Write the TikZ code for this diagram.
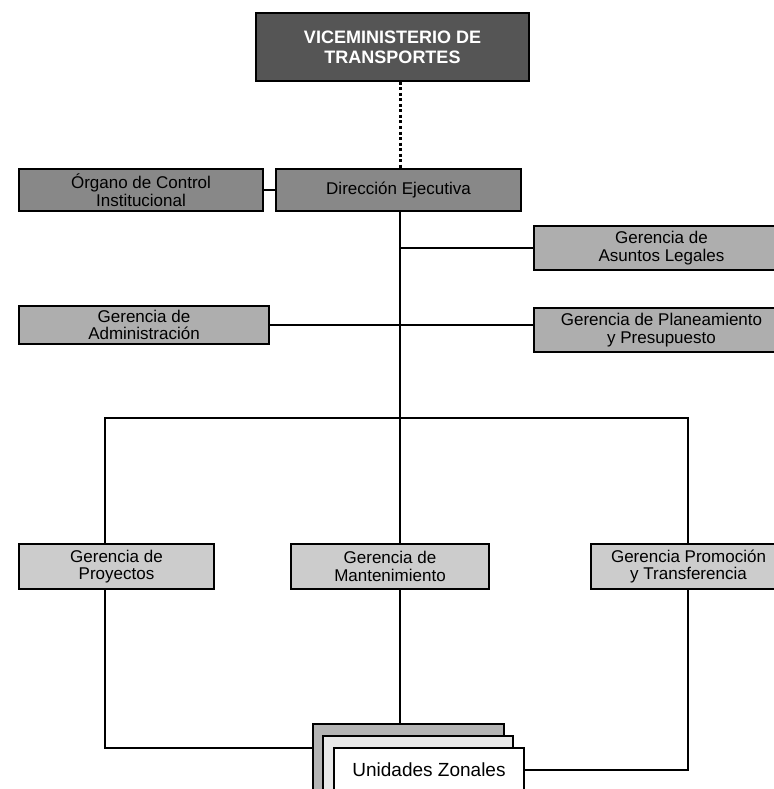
\documentclass[tikz,border=0pt]{standalone}
\usepackage{fontspec}
\setmainfont{Liberation Sans}
\usetikzlibrary{positioning}
\definecolor{headgray}{HTML}{555555}
\definecolor{dirgray}{HTML}{888888}
\definecolor{midgray}{HTML}{AEAEAE}
\definecolor{lowgray}{HTML}{CCCCCC}
\definecolor{backgray}{HTML}{B4B4B4}
\definecolor{pagegray}{HTML}{E8E8E8}
\tikzset{orgbox/.style={rectangle, draw=black, line width=2pt, anchor=north west, align=center, inner sep=1pt, font=\fontsize{17}{17.5}\selectfont},
         headbox/.style={orgbox, fill=headgray, text=white, font=\fontsize{18}{20}\selectfont\bfseries},
         dirbox/.style={orgbox, fill=dirgray},
         staffbox/.style={orgbox, fill=midgray},
         linebox/.style={orgbox, fill=lowgray},
         sheet/.style={orgbox, minimum width=191pt, minimum height=70pt},
         link/.style={line width=2.8pt, line cap=rect},
         dotlink/.style={line width=3pt, dash pattern=on 3pt off 2.5pt}}

\begin{document}
\begin{tikzpicture}[x=1pt, y=-1pt]
        \useasboundingbox (0,0) rectangle (773,789);

        \node (vice)[headbox, minimum width=273pt, minimum height=68pt] at (255,12) {VICEMINISTERIO DE\\TRANSPORTES};
        \node (dir)[dirbox, minimum width=245pt, minimum height=42pt] at (275,168) {Dirección Ejecutiva};
        \node (org)[dirbox, minimum width=244pt, minimum height=42pt] at (18,168) {Órgano de Control\\Institucional};
        \node (legal)[staffbox, minimum width=255pt, minimum height=44pt] at (533,225) {Gerencia de\\Asuntos Legales};
        \node (admin)[staffbox, minimum width=250pt, minimum height=38pt] at (18,305) {Gerencia de\\Administración};
        \node (plan)[staffbox, minimum width=255pt, minimum height=44pt] at (533,307) {Gerencia de Planeamiento\\y Presupuesto};

        \node (proy)[linebox, minimum width=195pt, minimum height=45pt] at (18,543) {Gerencia de\\Proyectos};
        \node (mant)[linebox, minimum width=198pt, minimum height=45pt] at (290,543) {Gerencia de\\Mantenimiento};
        \node (prom)[linebox, minimum width=195pt, minimum height=45pt] at (590,543) {Gerencia Promoción\\y Transferencia};

        % stacked sheets for the zonal units
        \node (zonb)[sheet, fill=backgray] at (312,723) {};
        \node (zonm)[sheet, fill=pagegray, minimum width=190pt] at (322,735) {};
        \node (zonf)[sheet, fill=white, minimum width=190pt, minimum height=44pt, font=\fontsize{19}{20}\selectfont] at (333,747) {Unidades Zonales};

        \coordinate (trunk) at (400,0);
        \coordinate (lft) at (105,418);
        \coordinate (rgt) at (688,418);
        \coordinate (lbot) at (105,748);
        \coordinate (rbot) at (688,770);

        \draw [dotlink] (vice.south -| trunk) -- (dir.north -| trunk);
        \draw [link] (org.east) -- (dir.west);
        \draw [link] (dir.south -| trunk) -- (mant.north -| trunk);
        \draw [link] (mant.south -| trunk) -- (zonb.north -| trunk);
        \draw [link] (legal.west -| trunk) -- (legal.west);
        \draw [link] (admin.east) -- (admin.east -| plan.west);

        \draw [link] (lft) -- (rgt);
        \draw [link] (lft) -- (lft |- proy.north);
        \draw [link] (lft |- proy.south) -- (lbot) -- (lbot -| zonb.west);
        \draw [link] (rgt) -- (rgt |- prom.north);
        \draw [link] (rgt |- prom.south) -- (rbot) -- (rbot -| zonf.east);
    \end{tikzpicture}
\end{document}
